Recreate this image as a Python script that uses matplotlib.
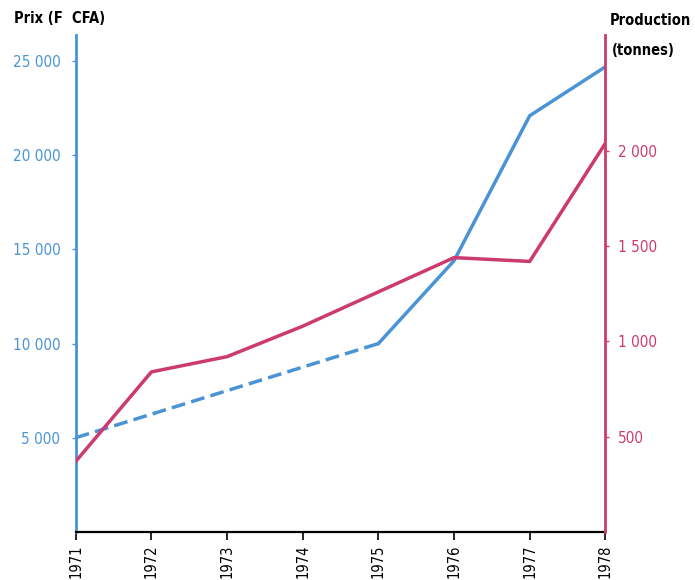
import matplotlib.pyplot as plt
from matplotlib import font_manager

# data
years = [1971, 1972, 1973, 1974, 1975, 1976, 1977, 1978]
production = [370, 840, 920, 1080, 1260, 1440, 1420, 2040]

# price: only 1971 and 1975 joined by a dashed line (estimate)
price_est_years = [1971, 1975]
price_est = [5000, 10000]
price_years = [1975, 1976, 1977, 1978]
price = [10000, 14400, 22100, 24700]

price_ticks = [5000, 10000, 15000, 20000, 25000]
price_labels = ["5 000", "10 000", "15 000", "20 000", "25 000"]
prod_ticks = [500, 1000, 1500, 2000]
prod_labels = ["500", "1 000", "1 500", "2 000"]

BLUE = "#4a94d6"
PINK = "#cc3a6e"

names = set(f.name for f in font_manager.fontManager.ttflist)
if "Liberation Sans Narrow" in names:
    FONT = "Liberation Sans Narrow"
elif "DejaVu Sans Condensed" in names:
    FONT = "DejaVu Sans Condensed"
else:
    FONT = "DejaVu Sans"
plt.rcParams["font.family"] = FONT
plt.rcParams["font.stretch"] = "condensed"

fig = plt.figure(figsize=(6.95, 5.8), dpi=100)
ax = fig.add_axes([0.109, 0.083, 0.762, 0.857])
ax2 = ax.twinx()

ax.plot(price_est_years, price_est, color=BLUE, lw=2.5, ls=(0, (4, 1.8)))
ax.plot(price_years, price, color=BLUE, lw=2.5)
ax2.plot(years, production, color=PINK, lw=2.5)

ax.set_xlim(1971, 1978)
ax.set_ylim(0, 26400)
ax2.set_ylim(0, 2610)

ax.set_xticks(years)
ax.set_xticklabels([str(y) for y in years], rotation=90, fontsize=10.5)
ax.set_yticks(price_ticks)
ax.set_yticklabels(price_labels, fontsize=11, color=BLUE)
ax2.set_yticks(prod_ticks)
ax2.set_yticklabels(prod_labels, fontsize=11, color=PINK)

ax.tick_params(axis="x", length=6, width=1.2, direction="out", pad=3)
ax.tick_params(axis="y", length=3, width=1, color=BLUE, pad=8)
ax2.tick_params(axis="y", length=3, width=1, color=PINK, pad=6)

for a in (ax, ax2):
    a.spines["top"].set_visible(False)
ax.spines["right"].set_visible(False)
ax2.spines["left"].set_visible(False)
ax2.spines["bottom"].set_visible(False)
ax.spines["left"].set_color(BLUE)
ax.spines["left"].set_linewidth(2)
ax2.spines["right"].set_color(PINK)
ax2.spines["right"].set_linewidth(2)
ax.spines["bottom"].set_linewidth(1.6)

fig.text(0.02, 0.968, "Prix (F  CFA)", fontsize=10.5, fontweight="bold", va="center")
fig.text(0.878, 0.965, "Production", fontsize=10.5, fontweight="bold", va="center")
fig.text(0.880, 0.913, "(tonnes)", fontsize=10.5, fontweight="bold", va="center")

fig.savefig("out.png", dpi=100)
